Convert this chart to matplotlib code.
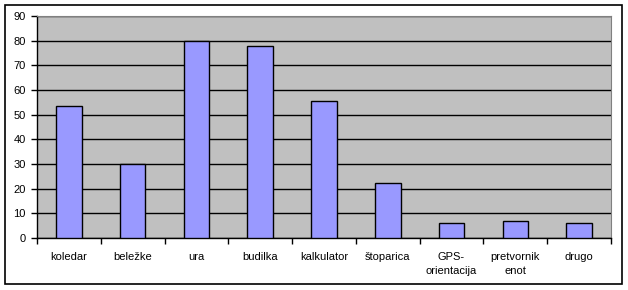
import numpy as np
import matplotlib.pyplot as plt
from matplotlib.patches import Rectangle

categories = ["koledar", "beležke", "ura", "budilka", "kalkulator",
              "štoparica", "GPS-\norientacija", "pretvornik\nenot", "drugo"]
values = [53.5, 30, 80, 78, 55.7, 22.3, 6, 7, 6]
y_ticks = [0, 10, 20, 30, 40, 50, 60, 70, 80, 90]

plt.rcParams["font.family"] = ["Liberation Sans", "DejaVu Sans"]
plt.rcParams["font.size"] = 8

fig = plt.figure(figsize=(6.28, 2.9), dpi=100)
ax = fig.add_axes([37 / 628, 1 - 238 / 290, (611 - 37) / 628, (238 - 16) / 290])

# outer chart frame
fig.patches.append(Rectangle((5 / 628, 6 / 290), 617 / 628, 279 / 290,
                             transform=fig.transFigure, fill=False,
                             edgecolor="black", linewidth=1.2))

x = np.arange(len(categories))
ax.set_facecolor("#C0C0C0")
ax.bar(x, values, width=0.4, color="#9999FF", edgecolor="black",
       linewidth=1, zorder=3)

ax.set_xlim(-0.5, len(categories) - 0.5)
ax.set_ylim(0, 90)
ax.set_yticks(y_ticks)
ax.yaxis.grid(True, color="black", linewidth=1, zorder=1)
ax.set_axisbelow(True)

ax.set_xticks(x)
ax.set_xticklabels(categories, linespacing=1.5)
ax.set_xticks(np.arange(len(categories) + 1) - 0.5, minor=True)
ax.tick_params(axis="x", which="major", length=0, pad=10)
ax.tick_params(axis="x", which="minor", length=4, width=1, direction="out")
ax.tick_params(axis="y", length=4, width=1, direction="out", pad=4)

for side in ["top", "right"]:
    ax.spines[side].set_color("#808080")
for side in ["left", "bottom"]:
    ax.spines[side].set_color("black")
    ax.spines[side].set_linewidth(1)

fig.savefig("out.png", dpi=100)
